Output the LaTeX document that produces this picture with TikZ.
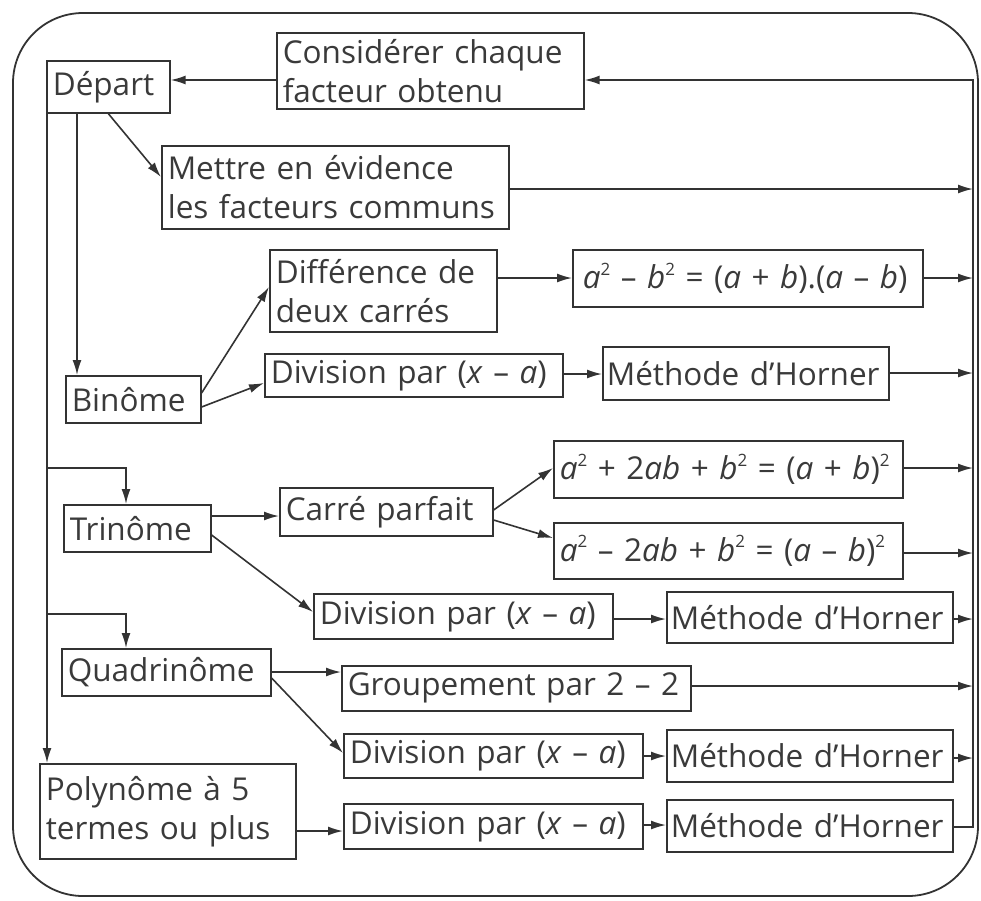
\documentclass[tikz,border=0pt]{standalone}
\usepackage{fontspec}
\setmainfont{Open Sans}
\usetikzlibrary{arrows.meta,calc}
\definecolor{ink}{HTML}{333333}
\definecolor{txt}{HTML}{3A3A3A}
\newcommand{\vi}[1]{\textit{#1}}
\newcommand{\sq}{\raisebox{0.42em}{\fontsize{17}{17}\selectfont 2}}
\newcommand{\horner}{\mbox{Méthode d’Horner}}
\begin{document}
\begin{tikzpicture}[x=1pt,y=-1pt,
  bx/.style={draw=ink, line width=1.6pt, anchor=north west, inner xsep=6pt, inner ysep=0pt, align=left,
    text=txt, font=\fontsize{31.5}{39}\selectfont},
  hb/.style={bx, inner xsep=4pt, text width=278, minimum height=#1},
  arr/.style={draw=ink, line width=1.6pt, -{Latex[length=15pt,width=9pt]}},
  frame/.style={draw=ink, line width=1.8pt, rounded corners=70pt}]
\useasboundingbox (0,0) rectangle (981,900);
\draw[frame] (13,13) rectangle (978,896);

\node[bx, text width=111, minimum height=52] (dep) at (46,60) {Départ};
\node[bx, text width=295, minimum height=76] (cons) at (276,32) {Considérer chaque\\facteur obtenu};
\node[bx, text width=335, minimum height=83] (mett) at (161,145) {Mettre en évidence\\les facteurs communs};
\node[bx, text width=215, minimum height=82] (diff) at (269,249) {Différence de\\deux carrés};
\node[bx, text width=338, minimum height=57] (abox) at (572,249) {\hspace*{4pt}\vi{a}\sq{} – \vi{b}\sq{} = (\vi{a} + \vi{b}).(\vi{a} – \vi{b})};
\node[bx, text width=123, minimum height=47] (bin) at (65,375) {Binôme};
\node[bx, text width=286, minimum height=43] (div1) at (264,353) {\mbox{Division par (\vi{x} – \vi{a})}};
\node[hb=53] (h1) at (602,346) {\horner};
\node[bx, text width=135, minimum height=47] (tri) at (63,504) {Trinôme};
\node[bx, text width=201, minimum height=48] (carre) at (279,487) {Carré parfait};
\node[bx, text width=337, minimum height=57] (p1) at (553,440) {\vi{a}\sq{} + 2\vi{ab} + \vi{b}\sq{} = (\vi{a} + \vi{b})\sq};
\node[bx, text width=337, minimum height=56] (p2) at (553,522) {\vi{a}\sq{} – 2\vi{ab} + \vi{b}\sq{} = (\vi{a} – \vi{b})\sq};
\node[bx, text width=287, minimum height=45] (div2) at (313,593) {\mbox{Division par (\vi{x} – \vi{a})}};
\node[hb=51] (h2) at (666,591) {\horner};
\node[bx, text width=197, minimum height=47] (quad) at (61,648) {Quadrinôme};
\node[bx, text width=337, minimum height=45] (grp) at (341,665) {Groupement par 2 – 2};
\node[bx, text width=287, minimum height=44] (div3) at (343,733) {\mbox{Division par (\vi{x} – \vi{a})}};
\node[hb=52] (h3) at (666,729) {\horner};
\node[bx, text width=244, minimum height=95] (poly) at (39,763) {Polynôme à 5\\termes ou plus};
\node[bx, text width=287, minimum height=45] (div4) at (343,803) {\mbox{Division par (\vi{x} – \vi{a})}};
\node[hb=52] (h4) at (666,799) {\horner};

\coordinate (rail) at (973,0);
\coordinate (L) at ($(dep.south west)+(1,0)$);
\coordinate (L2) at ($(dep.south west)+(31,0)$);

% top loop
\draw[arr] (cons.west |- 0,80) -- (dep.east |- 0,80);
\draw[arr] (h4.east |- 0,827) -- (rail |- 0,827) -- (rail |- 0,80) -- (cons.east |- 0,80);

% from Départ
\draw[arr] (dep.south) -- (mett.west |- 0,177);
\draw[arr] (L2) -- (L2 |- bin.north);
\draw[arr] (L) -- (L |- poly.north);
\draw[arr] (L |- 0,468) -| (tri.north -| 126,0);
\draw[arr] (L |- 0,614) -| (quad.north -| 126,0);

% binome
\draw[arr] (bin.east |- 0,393) -- (diff.west |- 0,287);
\draw[arr] (bin.east |- 0,407) -- (div1.west |- 0,383);
\draw[arr] (diff.east |- 0,278) -- (abox.west |- 0,278);
\draw[arr] (div1.east |- 0,374) -- (h1.west |- 0,374);

% trinome
\draw[arr] (tri.east |- 0,516) -- (carre.west |- 0,516);
\draw[arr] (tri.east |- 0,535) -- (div2.west |- 0,612);
\draw[arr] (carre.east |- 0,510) -- (p1.west |- 0,468);
\draw[arr] (carre.east |- 0,520) -- (p2.west |- 0,538);
\draw[arr] (div2.east |- 0,619) -- (h2.west |- 0,619);

% quadrinome
\draw[arr] (quad.east |- 0,672) -- (grp.west |- 0,672);
\draw[arr] (quad.east |- 0,678) -- (div3.west |- 0,753);
\draw[arr] (div3.east |- 0,756) -- (h3.west |- 0,756);

% polynome
\draw[arr] (poly.east |- 0,831) -- (div4.west |- 0,831);
\draw[arr] (div4.east |- 0,825) -- (h4.west |- 0,825);

% to rail
\draw[arr] (mett.east |- 0,189) -- (rail |- 0,189);
\draw[arr] (abox.east |- 0,278) -- (rail |- 0,278);
\draw[arr] (h1.east |- 0,373) -- (rail |- 0,373);
\draw[arr] (p1.east |- 0,468) -- (rail |- 0,468);
\draw[arr] (p2.east |- 0,553) -- (rail |- 0,553);
\draw[arr] (h2.east |- 0,619) -- (rail |- 0,619);
\draw[arr] (grp.east |- 0,686) -- (rail |- 0,686);
\draw[arr] (h3.east |- 0,758) -- (rail |- 0,758);
\end{tikzpicture}
\end{document}
